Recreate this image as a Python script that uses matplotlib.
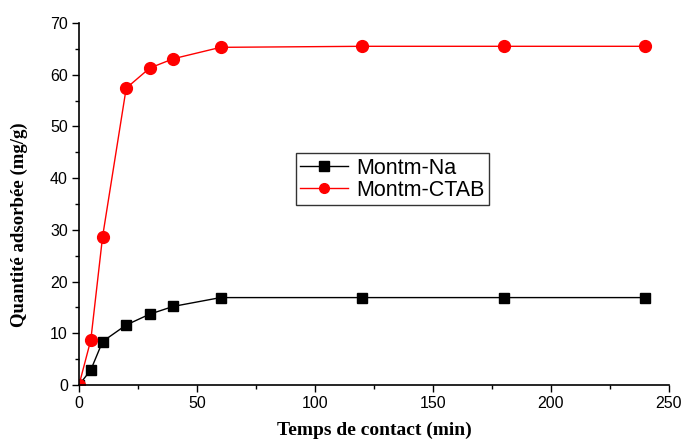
import matplotlib
matplotlib.use("Agg")
import matplotlib.pyplot as plt
from matplotlib.ticker import MultipleLocator

time_min = [0, 5, 10, 20, 30, 40, 60, 120, 180, 240]
montm_na = [0, 2.9, 8.4, 11.6, 13.7, 15.2, 16.9, 16.9, 16.9, 16.9]
montm_ctab = [0, 8.7, 28.7, 57.4, 61.3, 63.1, 65.3, 65.5, 65.5, 65.5]

fig = plt.figure(figsize=(6.84, 4.43), dpi=100)
ax = fig.add_axes([0.1155, 0.131, 0.8625, 0.817])

ax.plot(time_min, montm_na, color='black', linewidth=1.0, marker='s',
        markersize=7.5, label='Montm-Na')
ax.plot(time_min, montm_ctab, color='red', linewidth=1.0, marker='o',
        markersize=8.5, label='Montm-CTAB')

ax.set_xlim(0, 250)
ax.set_ylim(0, 70)
ax.xaxis.set_major_locator(MultipleLocator(50))
ax.xaxis.set_minor_locator(MultipleLocator(25))
ax.yaxis.set_major_locator(MultipleLocator(10))
ax.yaxis.set_minor_locator(MultipleLocator(5))

for s in ['top', 'right']:
    ax.spines[s].set_visible(False)
for s in ['left', 'bottom']:
    ax.spines[s].set_linewidth(1.2)

ax.tick_params(axis='both', which='major', direction='out', length=5, width=1,
               labelsize=11.5, pad=3)
ax.tick_params(axis='both', which='minor', direction='out', length=3, width=1)
for lbl in ax.get_xticklabels() + ax.get_yticklabels():
    lbl.set_fontfamily('Liberation Sans')

ax.set_xlabel('Temps de contact (min)', fontfamily='Liberation Serif',
              fontweight='bold', fontsize=14, labelpad=7.5)
ax.set_ylabel('Quantité adsorbée (mg/g)', fontfamily='Liberation Serif',
              fontweight='bold', fontsize=13.5)
ax.yaxis.set_label_coords(-0.087, 0.442)

leg = ax.legend(loc='upper left', bbox_to_anchor=(0.368, 0.64),
                prop={'family': 'Liberation Sans', 'size': 15.5},
                frameon=True, fancybox=False, edgecolor='black',
                handlelength=2.2, handletextpad=0.4, borderpad=0.2,
                labelspacing=0.05, borderaxespad=0)
leg.get_frame().set_linewidth(1.0)
for h in leg.legend_handles:
    h.set_markersize(7)

fig.savefig('out.png', dpi=100)
